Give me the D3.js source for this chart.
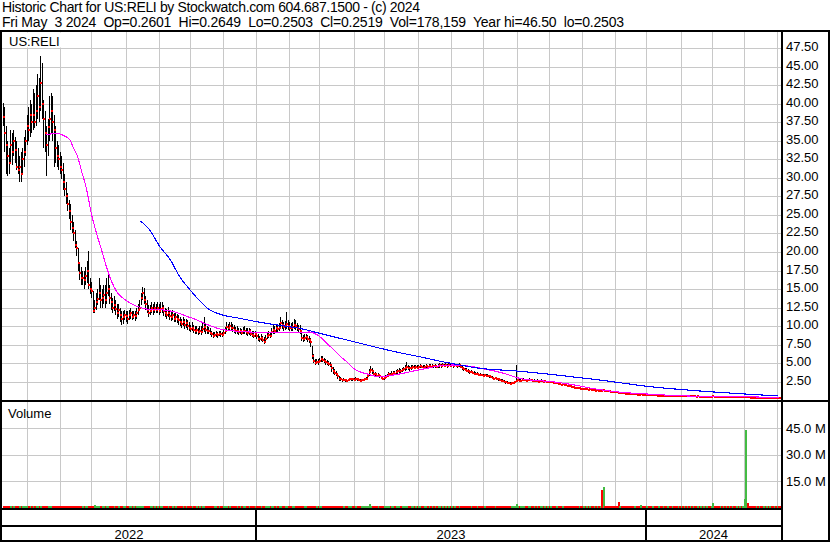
<!DOCTYPE html>
<html><head><meta charset="utf-8">
<script src="https://cdn.jsdelivr.net/npm/d3@7"></script>
<style>
body{margin:0;background:#fff}
svg{display:block}
text{font-family:"Liberation Sans",Arial,sans-serif;fill:#000}
</style>
</head><body>
<svg id="c" width="830" height="543"></svg>
<script>
// ---------------- data ----------------
const titleLines = [
  "Historic Chart for US:RELI by Stockwatch.com 604.687.1500 - (c) 2024",
  "Fri May  3 2024  Op=0.2601  Hi=0.2649  Lo=0.2503  Cl=0.2519  Vol=178,159  Year hi=46.50  lo=0.2503"
];
const symbolLabel = "US:RELI";
const volumeLabel = "Volume";
const firstDay = "2022-05-10";
const lastDay = "2024-05-03";

const close = [
38.2,36,34.5,33,32,34.5,33.5,35,33.7,31.5,31,31.5,30.5,32.5,33.5,35,37,36.5,38.5,37.5,38.5,37.5,39,41,39.5,42.8,40,38,36,34.5,
36.8,38,39,37.5,36.5,34,33,32.5,31.5,31,29.5,28.5,27.5,26.5,25.5,24,23.2,22.5,21,20.5,18.5,17.2,16.5,16.5,16.2,16.8,17.5,15.5,15,14.8,
12,12.4,13.2,13.7,14.5,13.5,13.8,14.2,13.5,14.5,15,13.8,13.2,12.5,12.8,12.3,11.8,12.2,11.5,11,11.2,11.5,11.3,11,11.5,11.7,11.2,11.5,11.4,11.8,
12.2,12.5,13.8,14.5,13.5,13,12.2,11.8,12,12.5,12.2,12.5,12.2,12.4,12,12.3,12.5,12,11.8,11.5,11.8,11.4,11.2,11.5,11,11.2,11,10.8,10.6,10.3,
10.5,10.2,10.4,10,9.8,9.6,9.8,9.5,9.3,9.5,9.2,9.4,9.2,9.6,9.9,9.5,9.4,9.3,9.1,8.9,8.7,8.8,8.9,8.8,9,8.9,8.8,9.1,9.4,9.9,
9.7,10,9.8,9.7,9.5,9.3,9.4,9.2,9.3,9.1,9.3,9.4,9.2,9.1,9.3,9,8.8,8.7,8.9,8.6,8.3,8.2,8.4,8.1,7.9,8.2,8.6,8.8,8.7,9.2,
9.5,9.4,9.7,9.6,9.8,10.4,10.1,9.9,10,10.3,10,9.8,9.7,9.9,10.1,10,9.8,9.6,9.4,8.4,8.2,8.4,8.5,8.3,8.1,7.8,5.9,5.3,5,5.2,
5.1,5.3,5.5,5.4,5.3,5.1,5,4.9,4.8,4.3,4,3.7,3.6,3.2,2.9,2.8,2.7,2.75,2.7,2.65,2.7,2.8,2.85,2.8,2.75,2.9,2.8,2.7,2.65,2.7,
2.75,2.8,2.9,3.3,3.8,4.1,3.9,3.6,3.5,3.3,3.4,3.2,3,2.9,2.95,3.1,3.3,3.5,3.4,3.6,3.7,3.6,3.8,3.9,4,3.9,4.1,4.2,4.3,4.5,
4.4,4.3,4.4,4.5,4.4,4.5,4.4,4.5,4.6,4.5,4.4,4.5,4.6,4.5,4.6,4.5,4.6,4.55,4.6,4.5,4.6,4.7,4.6,4.7,4.65,4.7,4.6,4.7,4.65,4.7,
4.6,4.7,4.65,4.6,4.7,4.5,4.3,4.2,4.1,4,3.9,3.8,3.85,3.7,3.6,3.5,3.55,3.45,3.4,3.35,3.3,3.35,3.3,3.25,3.2,3.1,3,2.9,2.95,2.85,
2.8,2.7,2.65,2.6,2.5,2.4,2.35,2.3,2.25,2.3,2.35,2.4,2.6,2.7,2.6,2.65,2.7,2.75,2.7,2.65,2.7,2.75,2.7,2.6,2.65,2.55,2.6,2.5,2.55,2.6,
2.5,2.55,2.45,2.5,2.4,2.45,2.4,2.35,2.3,2.35,2.25,2.2,2.1,2.15,2.05,2,1.95,1.9,1.85,1.8,1.75,1.7,1.65,1.6,1.62,1.55,1.5,1.52,1.45,1.48,
1.42,1.45,1.4,1.35,1.38,1.3,1.32,1.28,1.3,1.22,1.35,1.3,1.25,1.2,1.18,1.15,1.12,1.1,1.08,1.05,1,1.02,0.98,0.95,0.92,0.9,0.88,0.86,0.85,0.82,
0.8,0.82,0.78,0.76,0.74,0.78,0.75,0.72,0.7,0.72,0.7,0.68,0.66,0.68,0.65,0.64,0.62,0.63,0.61,0.6,0.62,0.6,0.58,0.59,0.57,0.56,0.58,0.56,0.55,0.54,
0.55,0.53,0.54,0.52,0.53,0.51,0.52,0.5,0.51,0.5,0.52,0.5,0.49,0.5,0.48,0.49,0.47,0.48,0.46,0.47,0.46,0.45,0.47,0.5,0.48,0.46,0.45,0.44,0.45,0.43,
0.44,0.42,0.43,0.41,0.42,0.4,0.41,0.4,0.39,0.4,0.38,0.39,0.37,0.38,0.4,0.45,0.42,0.38,0.36,0.35,0.34,0.33,0.34,0.32,0.33,0.31,0.3,0.31,0.29,0.3,0.28,0.29,0.28,0.27,0.27,0.26,0.26,0.255,0.2519
];
const high = [
40.1,39.5,37,35,34,36.5,36,36.5,35.5,35,34,33,33.5,34,35.5,36.5,38.5,39.5,40.5,40,42,41.5,42.5,44,43.5,46.5,45.5,40.5,39,37,
38,41,41.5,41,38.5,37,35,34.5,33.5,33,32,30.5,29.5,28,27,26.5,25,24,23,21.5,20.5,18.5,18,17.5,17.5,18,18.8,20.2,16.5,16,
14.8,13.5,14.5,15,16.5,15.5,15,15.5,15.5,16.5,17.5,15.5,14.5,13.8,14,13.5,13,13,12.5,12,12,12.2,12,12,12.2,12.5,12,12,12,12.5,
13,13.5,14.5,15.3,15.2,14,13.5,12.8,12.8,13.2,13,13.2,13,13.2,13,13.2,13.2,12.8,12.5,12.3,12.6,12.2,12,12.2,11.8,11.8,11.6,11.5,11.2,11,
11.2,11,11,10.8,10.5,10.2,10.5,10.2,10,10,9.8,10,10,10.5,11.2,10.3,10,9.9,9.7,9.4,9.2,9.2,9.3,9.2,9.3,9.3,9.2,9.5,9.9,10.5,
10.3,10.6,10.5,10.3,10.1,9.9,10,9.8,9.8,9.6,9.9,10,9.8,9.7,9.8,9.6,9.4,9.3,9.4,9.1,8.9,8.7,8.9,8.6,8.5,8.8,9.1,9.3,9.2,9.8,
10.1,10,10.3,10.2,10.4,11.2,10.8,10.6,10.7,11.9,10.8,10.5,10.4,10.6,10.9,10.8,10.4,10.2,10.2,9.2,8.8,8.9,9,8.8,8.6,8.4,7.3,6.2,5.6,5.6,
5.5,5.7,5.9,5.9,5.7,5.5,5.4,5.3,5.1,4.7,4.5,4.2,4,3.6,3.2,3.1,2.9,2.95,2.9,2.85,2.9,3,3.05,3,2.95,3.1,3,2.9,2.85,2.9,
2.9,3,3.1,3.6,4.2,4.6,4.4,4,3.8,3.6,3.7,3.5,3.3,3.1,3.2,3.4,3.6,3.8,3.7,3.9,4,3.9,4.1,4.2,4.3,4.2,4.4,4.5,4.7,5.2,
4.8,4.6,4.7,4.8,4.7,4.8,4.7,4.8,4.9,4.8,4.7,4.8,4.9,4.8,4.9,4.9,4.9,4.8,4.9,4.8,4.9,5,4.9,5,4.95,5,4.9,5,4.9,5,
4.9,5,4.95,4.9,5,4.8,4.6,4.5,4.4,4.3,4.2,4.1,4.1,4,3.9,3.8,3.8,3.7,3.65,3.6,3.55,3.6,3.5,3.5,3.45,3.35,3.2,3.1,3.15,3.05,
3,2.9,2.85,2.8,2.7,2.6,2.55,2.45,2.4,2.45,2.5,2.6,4.7,2.9,2.8,2.85,3,2.95,2.9,2.85,2.9,2.95,2.9,2.8,2.85,2.75,2.8,2.7,2.75,2.8,
2.65,2.7,2.6,2.65,2.55,2.6,2.55,2.5,2.45,2.5,2.4,2.35,2.25,2.3,2.2,2.15,2.1,2.05,2,1.95,1.9,1.85,1.8,1.75,1.75,1.7,1.65,1.65,1.6,1.6,
1.52,1.55,1.5,1.45,1.48,1.4,1.42,1.38,1.4,1.35,1.5,1.42,1.35,1.3,1.28,1.25,1.22,1.2,1.18,1.15,1.1,1.1,1.06,1.03,1,0.98,0.96,0.94,0.92,0.9,
0.87,0.88,0.85,0.82,0.8,0.85,0.81,0.78,0.76,0.77,0.75,0.73,0.71,0.73,0.7,0.69,0.67,0.68,0.66,0.65,0.67,0.65,0.63,0.64,0.62,0.61,0.63,0.61,0.6,0.59,
0.59,0.57,0.58,0.56,0.57,0.55,0.56,0.54,0.55,0.54,0.56,0.54,0.53,0.54,0.52,0.53,0.51,0.52,0.5,0.51,0.5,0.49,0.51,0.55,0.52,0.5,0.49,0.48,0.49,0.47,
0.47,0.45,0.46,0.44,0.45,0.43,0.44,0.43,0.42,0.43,0.41,0.42,0.4,0.41,0.44,0.55,0.47,0.42,0.39,0.38,0.37,0.36,0.37,0.35,0.36,0.34,0.33,0.34,0.32,0.33,0.31,0.32,0.31,0.3,0.29,0.29,0.28,0.27,0.2649
];
const low = [
37,33.5,30.5,30.3,30.5,32,31.8,33,32,31,30.5,29.4,29.5,30.5,31.5,33,34.5,35,35.5,36,36.5,36.7,37,38,37.5,39,38,34,33.5,30.3,
33,35,36,35,31.5,32,31.5,31,30.5,29.8,28.3,27.5,26.5,25.5,24.5,23,22.5,21.5,20.5,19.5,17.5,16.2,15.5,15.5,15,15.5,15.8,15,14.3,13.8,
11.8,11.8,12.2,12.8,13.5,12.5,12.5,13,12.5,13,14,13,12.2,11.8,12,11.5,11,11.2,10.5,10.2,10.3,10.8,10.5,10.3,10.8,11,10.8,11,10.7,11,
11.5,12,12.8,13.5,13,12.2,11.8,11.2,11.5,11.8,11.5,11.8,11.7,11.8,11.5,11.7,11.8,11.3,11.2,11,11.2,10.8,10.7,10.8,10.5,10.5,10.4,10.2,10,9.8,
10,9.6,9.8,9.5,9.4,9.2,9.3,9.1,8.9,9,8.8,9,8.8,9.1,9.2,9,9,8.9,8.8,8.5,8.4,8.5,8.5,8.4,8.6,8.5,8.5,8.7,8.9,9.2,
9.3,9.5,9.4,9.2,9.1,9,9,8.8,8.9,8.8,8.9,9,8.8,8.7,8.8,8.7,8.5,8.4,8.5,8.3,8,7.9,8,7.8,7.6,7.8,8.2,8.4,8.4,8.8,
9,9,9.2,9.2,9.3,9.6,9.6,9.4,9.5,9.6,9.5,9.4,9.3,9.4,9.6,9.5,9.3,9.2,9,8,7.8,8,8.1,7.9,7.7,7.2,5.6,5,4.7,4.9,
4.8,5,5.1,5.1,5,4.8,4.7,4.6,4.5,3.8,3.6,3.4,3.3,2.9,2.6,2.6,2.5,2.55,2.5,2.5,2.55,2.6,2.65,2.6,2.6,2.7,2.6,2.55,2.5,2.55,
2.6,2.65,2.7,2.9,3.3,3.7,3.6,3.4,3.3,3.1,3.2,3,2.8,2.7,2.75,2.9,3.1,3.2,3.2,3.3,3.4,3.4,3.5,3.6,3.7,3.7,3.8,3.9,4,4.1,
4.1,4,4.1,4.2,4.2,4.3,4.2,4.3,4.3,4.3,4.2,4.3,4.3,4.3,4.4,4.3,4.4,4.3,4.4,4.3,4.4,4.4,4.4,4.5,4.45,4.5,4.4,4.5,4.45,4.5,
4.4,4.5,4.45,4.4,4.5,4.3,4.1,4,3.9,3.8,3.7,3.6,3.65,3.5,3.4,3.35,3.4,3.3,3.25,3.2,3.15,3.2,3.1,3.1,3.05,2.95,2.85,2.75,2.8,2.7,
2.65,2.55,2.5,2.45,2.35,2.25,2.2,2.15,2.1,2.15,2.2,2.25,2.4,2.5,2.45,2.5,2.55,2.6,2.55,2.5,2.55,2.6,2.55,2.45,2.5,2.4,2.45,2.35,2.4,2.45,
2.4,2.45,2.35,2.4,2.3,2.35,2.3,2.25,2.2,2.25,2.15,2.1,2,2.05,1.95,1.9,1.85,1.8,1.75,1.7,1.65,1.6,1.55,1.5,1.52,1.45,1.4,1.42,1.35,1.38,
1.35,1.38,1.33,1.28,1.3,1.23,1.25,1.2,1.22,1.15,1.2,1.22,1.18,1.13,1.1,1.08,1.05,1.03,1,0.98,0.93,0.95,0.92,0.89,0.86,0.84,0.82,0.8,0.79,0.76,
0.75,0.77,0.73,0.71,0.69,0.72,0.7,0.67,0.65,0.67,0.65,0.63,0.61,0.63,0.6,0.59,0.58,0.58,0.57,0.56,0.57,0.56,0.54,0.55,0.53,0.52,0.54,0.52,0.51,0.5,
0.52,0.5,0.51,0.49,0.5,0.48,0.49,0.47,0.48,0.47,0.49,0.47,0.46,0.47,0.45,0.46,0.44,0.45,0.43,0.44,0.43,0.42,0.44,0.46,0.45,0.43,0.42,0.41,0.42,0.4,
0.41,0.4,0.4,0.39,0.39,0.38,0.38,0.38,0.37,0.37,0.36,0.36,0.35,0.35,0.37,0.4,0.39,0.36,0.34,0.33,0.32,0.31,0.31,0.3,0.3,0.29,0.28,0.28,0.27,0.27,0.26,0.27,0.26,0.26,0.255,0.255,0.254,0.253,0.2503
];
// daily volume, thousands of shares
const volumeK = [
420,380,510,300,280,350,260,310,290,240,330,270,250,310,280,360,400,290,350,310,380,300,340,420,390,610,480,370,330,300,
280,310,290,260,300,270,240,230,250,260,310,280,300,270,320,350,300,290,330,310,400,380,350,300,280,320,450,390,330,300,
340,1200,420,310,380,300,280,290,260,330,380,300,260,240,230,220,250,230,260,240,220,210,230,200,220,210,190,200,210,230,
250,270,380,420,300,260,230,210,200,220,210,200,190,210,200,190,200,180,190,180,170,180,190,170,160,170,180,160,170,190,
180,170,160,170,160,150,160,170,150,160,150,160,150,170,200,160,150,140,150,160,170,150,140,150,140,150,140,160,170,200,
180,190,170,160,150,140,150,140,150,140,150,160,140,130,140,150,160,150,140,160,170,160,150,170,180,160,170,160,150,180,
190,170,180,170,180,240,200,180,170,260,200,180,170,190,200,180,170,160,180,260,240,200,190,180,190,220,560,420,330,280,
260,250,270,240,230,220,210,230,220,300,310,290,270,330,350,300,260,250,240,230,250,260,240,230,220,240,230,220,210,230,
240,250,280,650,1800,700,450,380,340,320,300,310,280,260,270,300,320,340,300,320,330,300,340,360,380,340,360,380,420,500,
400,360,350,370,340,360,330,350,380,340,320,330,350,320,340,310,330,300,320,300,310,330,300,320,290,310,300,320,290,300,
290,310,300,280,300,330,350,320,310,300,290,300,280,290,300,280,270,290,280,270,260,280,270,260,280,290,300,310,280,290,
290,300,280,290,310,330,320,300,290,280,300,340,1800,650,400,350,330,300,310,290,280,300,290,310,280,300,290,280,300,290,
300,280,310,290,300,320,310,300,330,310,340,360,380,350,370,400,380,360,390,410,380,400,420,400,390,430,450,420,440,410,
430,450,420,460,440,480,450,470,500,9900,11600,600,450,480,520,500,480,460,500,520,3100,700,500,480,460,450,470,440,430,460,
450,430,460,440,420,1300,480,440,420,410,400,420,390,410,400,380,400,390,370,380,400,380,370,390,360,380,370,360,350,370,
360,350,370,340,360,350,340,330,350,340,360,330,340,350,330,340,320,330,340,320,330,340,360,2600,500,400,380,360,350,340,
350,330,340,320,330,310,320,330,310,320,330,300,320,310,4800,44000,2600,900,600,500,450,420,400,380,390,360,350,370,340,330,320,310,300,290,280,260,240,210,178
];
// moving-average lines: bar index and value
const maShortIdx = [29,36,42,45,47,50,53,56,59,63,66,69,73,76,79,83,87,92,96,100,105,110,114,118,123,127,132,138,145,154,165,176,187,198,205,208,212,216,221,225,230,234,238,243,247,252,256,265,274,283,292,301,307,314,320,327,334,341,347,352,366,380,393,406,420,433,446,460,480,500,518];
const maShortVal = [35.8,36.0,35.6,35.1,34.2,32.9,30.7,28.5,25.4,22.3,20.3,18.2,15.9,14.7,14.0,13.4,12.9,12.5,12.3,12.2,12.2,12.1,11.95,11.7,11.3,11.05,10.6,10.1,9.6,9.35,9.2,9.1,9.1,9.15,9.2,9.0,8.5,7.7,6.8,5.95,5.1,4.3,3.85,3.55,3.3,3.17,3.27,3.54,3.94,4.3,4.66,4.75,4.66,4.52,4.25,3.98,3.63,3.17,2.86,2.73,2.5,2.1,1.6,1.2,0.95,0.8,0.65,0.55,0.5,0.45,0.35];
const maLongIdx = [92,98,105,112,118,125,131,138,145,158,172,185,198,212,225,238,252,265,278,292,305,318,332,345,352,365,398,432,465,498,517];
const maLongVal = [24.2,23.0,20.7,18.9,16.7,14.9,13.5,12.2,11.6,11.05,10.5,10.1,9.7,9.0,8.35,7.7,7.0,6.4,5.87,5.25,4.75,4.3,4.08,3.9,3.77,3.5,2.73,1.82,1.24,0.8,0.57];

const priceTicks = [2.5,5,7.5,10,12.5,15,17.5,20,22.5,25,27.5,30,32.5,35,37.5,40,42.5,45,47.5];
const volumeTicksM = [15,30,45];

// ---------------- layout ----------------
const svg = d3.select("#c");
const L = 2, R = 781;           // plot left / right
const mainTop = 31.5, mainBot = 400;
const volTop = 402, volBot = 508;

const parse = d3.timeParse("%Y-%m-%d");
const allDays = d3.timeDay.range(parse(firstDay), d3.timeDay.offset(parse(lastDay), 1))
  .filter(d => d.getDay() !== 0 && d.getDay() !== 6);
const N = Math.min(allDays.length, close.length, high.length, low.length, volumeK.length);
const dates = allDays.slice(0, N);
const idx = d3.range(N);

const x = d3.scalePoint().domain(idx).range([2.5, 2.5 + 1.5 * (N - 1)]);
const y = d3.scaleLinear().domain([0, 47.5]).range([400.2, 48.2]);
const yv = d3.scaleLinear().domain([0, 45]).range([507.5, 428.3]);

const px = v => Math.round(v) + 0.5;

// month & year boundaries
const monthStarts = idx.filter(i => i > 0 && dates[i].getMonth() !== dates[i - 1].getMonth());
const yearStarts = monthStarts.filter(i => dates[i].getMonth() === 0);

// ---------------- background grid ----------------
const grid = svg.append("g").attr("stroke", "#c8c8c8").attr("stroke-width", 1).attr("shape-rendering", "crispEdges");
monthStarts.forEach(i => {
  grid.append("line").attr("x1", px(x(i))).attr("x2", px(x(i))).attr("y1", mainTop).attr("y2", mainBot);
  grid.append("line").attr("x1", px(x(i))).attr("x2", px(x(i))).attr("y1", volTop).attr("y2", volBot);
});
priceTicks.forEach(t => grid.append("line").attr("x1", L).attr("x2", R).attr("y1", px(y(t))).attr("y2", px(y(t))));
volumeTicksM.forEach(t => grid.append("line").attr("x1", L).attr("x2", R).attr("y1", px(yv(t))).attr("y2", px(yv(t))));

// ---------------- price bars ----------------
svg.append("clipPath").attr("id", "cm").append("rect")
  .attr("x", L).attr("y", mainTop).attr("width", R - L).attr("height", mainBot - mainTop);
const gp = svg.append("g").attr("clip-path", "url(#cm)").attr("shape-rendering", "crispEdges");

gp.selectAll("line.bar").data(idx).join("line").attr("class", "bar")
  .attr("x1", i => px(x(i))).attr("x2", i => px(x(i)))
  .attr("y1", i => Math.round(y(high[i])))
  .attr("y2", i => Math.max(Math.round(y(low[i])), Math.round(y(high[i])) + 1))
  .attr("stroke", "#000").attr("stroke-width", 1);
gp.selectAll("rect.cl").data(idx).join("rect").attr("class", "cl")
  .attr("x", i => Math.round(x(i))).attr("y", i => Math.round(y(close[i])) - 1)
  .attr("width", 2).attr("height", 2).attr("fill", "#ff0000");

// moving averages
const lineGen = d3.line().x(d => x(d[0])).y(d => y(d[1])).curve(d3.curveMonotoneX);
gp.append("path").datum(maShortIdx.map((i, k) => [i, maShortVal[k]]))
  .attr("d", lineGen).attr("fill", "none").attr("stroke", "#ff00ff").attr("stroke-width", 1.1);
gp.append("path").datum(maLongIdx.map((i, k) => [i, maLongVal[k]]))
  .attr("d", lineGen).attr("fill", "none").attr("stroke", "#0000ff").attr("stroke-width", 1.1);

// ---------------- volume bars ----------------
const gv = svg.append("g").attr("shape-rendering", "crispEdges");
gv.selectAll("rect").data(idx).join("rect")
  .attr("x", i => Math.round(x(i)))
  .attr("width", 2)
  .attr("y", i => Math.min(yv(volumeK[i] / 1000), volBot - 2))
  .attr("height", i => volBot - Math.min(yv(volumeK[i] / 1000), volBot - 2))
  .attr("fill", i => (i > 0 && close[i] >= close[i - 1]) ? "#44bb44" : "#ff0000");

// ---------------- frame ----------------
const fr = svg.append("g").attr("stroke", "#000").attr("stroke-width", 2).attr("shape-rendering", "crispEdges");
fr.append("line").attr("x1", 0).attr("x2", 830).attr("y1", 31).attr("y2", 31);
fr.append("line").attr("x1", 0).attr("x2", 830).attr("y1", 401).attr("y2", 401);
fr.append("line").attr("x1", 0).attr("x2", R + 1).attr("y1", 509).attr("y2", 509);
fr.append("line").attr("x1", 0).attr("x2", R + 1).attr("y1", 526).attr("y2", 526);
fr.append("line").attr("x1", 0).attr("x2", 830).attr("y1", 541).attr("y2", 541);
fr.append("line").attr("x1", 1).attr("x2", 1).attr("y1", 30).attr("y2", 542);
fr.append("line").attr("x1", 829).attr("x2", 829).attr("y1", 30).attr("y2", 542);
fr.append("line").attr("x1", R + 1).attr("x2", R + 1).attr("y1", 30).attr("y2", 542);
yearStarts.forEach(i => fr.append("line").attr("x1", Math.round(x(i))).attr("x2", Math.round(x(i))).attr("y1", 509).attr("y2", 541));

// ---------------- texts ----------------
svg.append("text").attr("x", 2).attr("y", 12).style("font-size", "14px").style("white-space", "pre")
  .attr("textLength", 418).attr("lengthAdjust", "spacing").text(titleLines[0]);
svg.append("text").attr("x", 2).attr("y", 27).style("font-size", "14px").style("white-space", "pre")
  .attr("textLength", 622).attr("lengthAdjust", "spacing").text(titleLines[1]);

svg.append("rect").attr("x", 3).attr("y", 32.5).attr("width", 58).attr("height", 15).attr("fill", "#fff");
svg.append("text").attr("x", 9).attr("y", 45.5).style("font-size", "13px").text(symbolLabel);
svg.append("text").attr("x", 8).attr("y", 418).style("font-size", "13px").text(volumeLabel);

priceTicks.forEach(t => svg.append("text").attr("x", 786).attr("y", y(t) + 3).style("font-size", "13px").text(t.toFixed(2)));
volumeTicksM.forEach(t => svg.append("text").attr("x", 786).attr("y", yv(t) + 4.5).style("font-size", "13px").text(t.toFixed(1) + " M"));

// year labels centred between boundaries
const bounds = [L].concat(yearStarts.map(i => x(i)), [R]);
const yearNames = [dates[0].getFullYear()].concat(yearStarts.map(i => dates[i].getFullYear()));
yearNames.forEach((yr, k) => svg.append("text")
  .attr("x", (bounds[k] + bounds[k + 1]) / 2).attr("y", 539).attr("text-anchor", "middle")
  .style("font-size", "13px").text(String(yr)));
</script>
</body></html>
